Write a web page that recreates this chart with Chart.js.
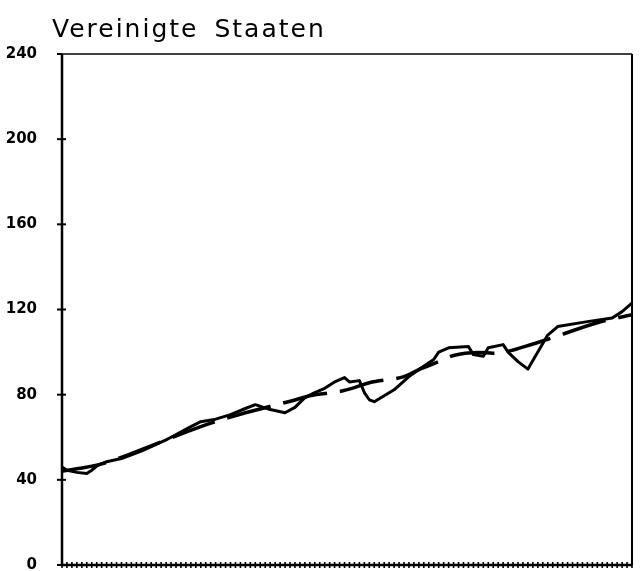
<!DOCTYPE html>
<html>
<head>
<meta charset="utf-8">
<script src="https://cdn.jsdelivr.net/npm/chart.js@4/dist/chart.umd.min.js"></script>
<style>
  html, body { margin: 0; padding: 0; background: #fff; }
  #wrap { width: 643px; height: 571px; }
  canvas { display: block; }
</style>
</head>
<body>
<div id="wrap"><canvas id="c" width="643" height="571"></canvas></div>
<script>
// ---- data ----
const titleText = "Vereinigte Staaten";
const quarterCount = 116;                 // number of quarterly ticks on the x axis
const yTickLabels = [0, 40, 80, 120, 160, 200, 240];

const solidX = [0,1,3,5,6,7,9,12,16,21,22,26,28,31,34,37,39,42,45,47,49,51,53,55,57,58,60,61,62,63,67,70,72,75,76,78,82,83,85,86,89,90,92,94,96,98,100,106,108,111,113,115];
const solidY = [46,44.5,43.5,43,44.5,46.5,48.5,50,53.5,58.8,60,65,67.3,68.5,70.6,73.5,75.3,73,71.5,74,78.6,81,83,86,88,86,86.6,81,77.6,76.7,82.3,88.5,91.8,96.5,100,102,102.6,98.8,98,102,103.5,100,95.5,92,100,108,112,114.3,115,116,119,123];

const trendX = [0,8,18,28,37,47,50,56,59,62,69,72,76,79,84,87,96,98,108,115];
const trendY = [44,47.5,56,65,71.5,77.5,79.5,81.5,83.3,85.6,88.5,91.8,95.5,98.4,99.8,99.5,104.5,106,113.8,117.6];

const toPts = (xs, ys) => xs.map((x, i) => ({ x: x, y: ys[i] }));

// title drawn as text, left of the plot frame, with wide letter spacing
const titlePlugin = {
  id: 'wideTitle',
  afterDraw(chart) {
    const ctx = chart.ctx;
    const a = chart.chartArea;
    ctx.save();
    ctx.letterSpacing = '2px';
    ctx.wordSpacing = '6px';
    ctx.font = 'normal 25px "DejaVu Sans"';
    ctx.fillStyle = '#000';
    ctx.textAlign = 'left';
    ctx.textBaseline = 'alphabetic';
    ctx.fillText(titleText, a.left - 10, a.top - 17);
    ctx.restore();
  }
};

// frame + crossing tick marks drawn through the scales
const framePlugin = {
  id: 'frame',
  afterDraw(chart) {
    const ctx = chart.ctx;
    const a = chart.chartArea;
    const xs = chart.scales.x, ys = chart.scales.y;
    ctx.save();
    ctx.strokeStyle = '#000';
    ctx.lineWidth = 1.5;
    ctx.beginPath();
    ctx.moveTo(a.left, a.top); ctx.lineTo(a.right, a.top);
    ctx.stroke();
    ctx.lineWidth = 2;
    ctx.beginPath();
    ctx.moveTo(a.right, a.top); ctx.lineTo(a.right, a.bottom);
    ctx.stroke();
    ctx.lineWidth = 2.5;
    ctx.beginPath();
    ctx.moveTo(a.left, a.top); ctx.lineTo(a.left, a.bottom); ctx.lineTo(a.right, a.bottom);
    ctx.stroke();
    ctx.lineWidth = 1.6;
    for (let i = 0; i < quarterCount; i++) {
      const px = xs.getPixelForValue(i);
      ctx.beginPath();
      ctx.moveTo(px, a.bottom - 3); ctx.lineTo(px, a.bottom + 3);
      ctx.stroke();
    }
    ctx.lineWidth = 2;
    yTickLabels.forEach(v => {
      const py = ys.getPixelForValue(v);
      ctx.beginPath();
      const inner = (v === 0 || v === 240) ? 0 : 4;
      ctx.moveTo(a.left - 5, py); ctx.lineTo(a.left + inner, py);
      ctx.stroke();
    });
    ctx.restore();
  }
};

new Chart(document.getElementById('c'), {
  type: 'line',
  data: {
    datasets: [
      {
        label: 'Trend',
        data: toPts(trendX, trendY),
        borderColor: '#000',
        borderWidth: 3.5,
        borderDash: [45, 13],
        pointRadius: 0,
        tension: 0.3,
        cubicInterpolationMode: 'monotone',
        fill: false
      },
      {
        label: 'Vereinigte Staaten',
        data: toPts(solidX, solidY),
        borderColor: '#000',
        borderWidth: 3,
        pointRadius: 0,
        tension: 0,
        borderJoinStyle: 'round',
        fill: false
      }
    ]
  },
  options: {
    responsive: false,
    animation: false,
    devicePixelRatio: 1,
    layout: { autoPadding: false, padding: { left: 0, right: 11, top: 54, bottom: 0 } },
    plugins: {
      legend: { display: false },
      tooltip: { enabled: false },
      title: { display: false }
    },
    scales: {
      x: {
        type: 'linear',
        min: 0,
        max: quarterCount - 1,
        grid: { display: false, drawTicks: false },
        border: { display: false },
        ticks: { display: false },
        afterFit(s) { s.height = 6; s.paddingLeft = 0; s.paddingRight = 0; }
      },
      y: {
        min: 0,
        max: 240,
        afterBuildTicks(s) { s.ticks = yTickLabels.map(v => ({ value: v })); },
        grid: { display: false, drawTicks: false },
        border: { display: false },
        ticks: {
          color: '#000',
          padding: 25,
          font: { family: 'DejaVu Sans', size: 15, weight: 'bold' }
        },
        afterFit(s) { s.width = 62; s.paddingTop = 0; s.paddingBottom = 0; }
      }
    }
  },
  plugins: [titlePlugin, framePlugin]
});
</script>
</body>
</html>
